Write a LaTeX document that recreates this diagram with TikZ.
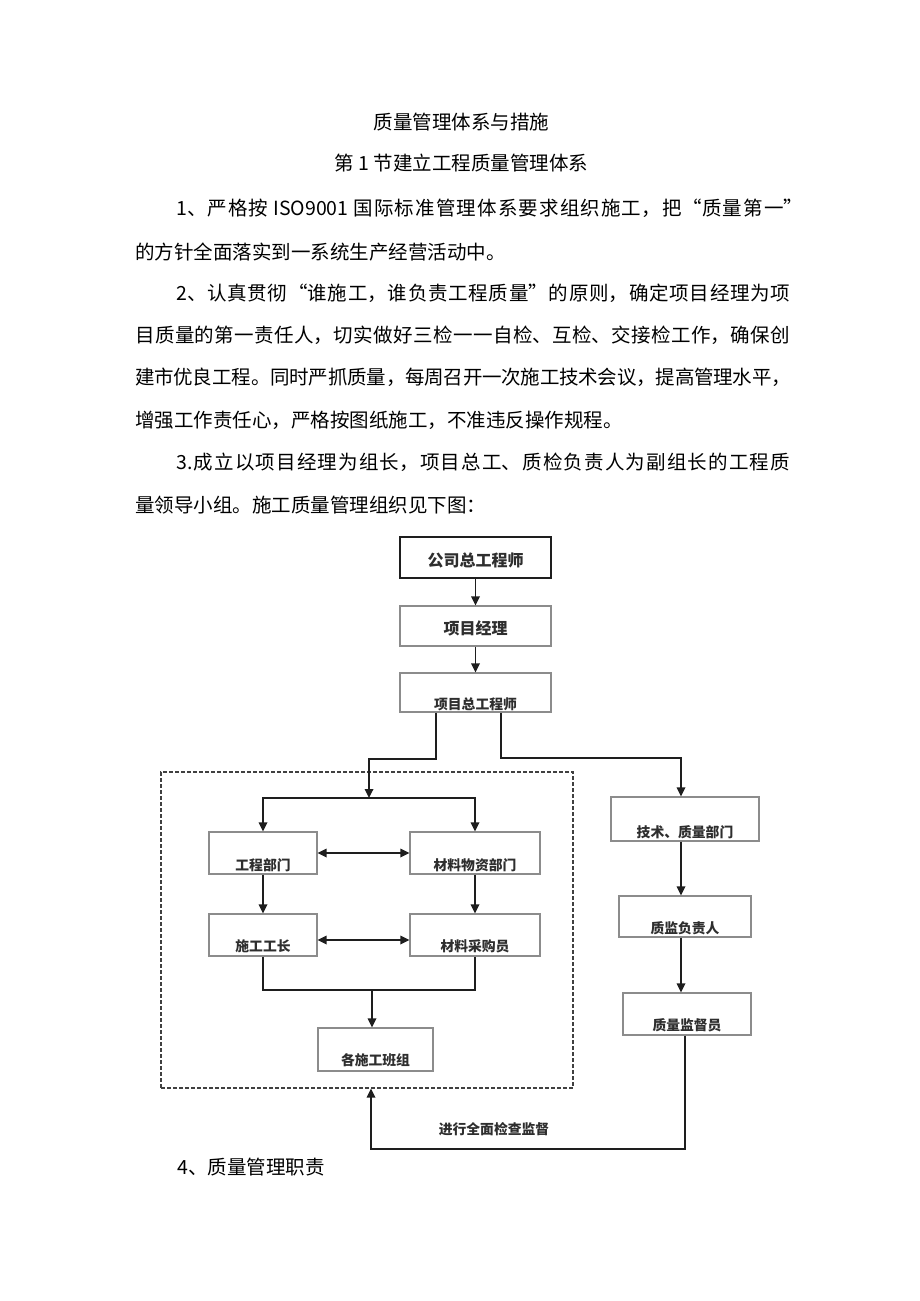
\documentclass[tikz,border=0pt]{standalone}
\usepackage{fontspec}
\setmainfont{Noto Sans CJK SC}
\usetikzlibrary{arrows.meta,calc}
\XeTeXlinebreaklocale "zh"
\XeTeXlinebreakskip=0pt plus 4pt minus 1pt
\definecolor{boxgray}{HTML}{8C8C8C}
\definecolor{txtgray}{HTML}{2E2E2E}
\definecolor{arrc}{HTML}{1E1E1E}
\newcommand{\jline}[2]{\parbox[b]{#1}{\parfillskip=0pt\noindent #2\par}}
\begin{document}
\begin{tikzpicture}[x=1pt,y=-1pt,
  body/.style={font=\fontsize{19.5}{24}\selectfont, inner sep=0pt, anchor=base west, text=black},
  bodyc/.style={font=\fontsize{19.5}{24}\selectfont, inner sep=0pt, anchor=base, text=black},
  box/.style={draw=boxgray, line width=1.2pt, inner sep=0pt, text=txtgray,
              font=\bfseries\fontsize{13.8}{14}\selectfont},
  topbox/.style={box, draw=arrc, line width=2pt, font=\bfseries\fontsize{16}{16}\selectfont},
  bx/.style n args={3}{minimum width=#1, text height=#2, text depth=#3},
  grpbox/.style={draw=arrc!85, line width=1.2pt, dash pattern=on 4pt off 2pt, inner sep=0pt},
  ln/.style={draw=arrc, line width=1.7pt},
  arr/.style={ln, -{Triangle[length=9pt,width=8.5pt]}},
  arrboth/.style={ln, {Triangle[length=9pt,width=8.5pt]}-{Triangle[length=9pt,width=8.5pt]}},
  lbl/.style={inner sep=0pt, text=txtgray, font=\bfseries\fontsize{13.8}{14}\selectfont}
]
\useasboundingbox[fill=white] (0,0) rectangle (920,1301);

% ---- text ----
\node[bodyc] (t0) at (461.5,129.6) {质量管理体系与措施};
\node[bodyc] (t1) at (461.5,170.6) {第 1 节建立工程质量管理体系};
\node[body] (p1a) at (176,215.6) {\jline{627pt}{1、严格按 ISO9001 国际标准管理体系要求组织施工，把“质量第一”}};
\node[body] (p1b) at (135,259.6) {的方针全面落实到一系统生产经营活动中。};
\node[body] (p2a) at (176,300.6) {\jline{614pt}{2、认真贯彻“谁施工，谁负责工程质量”的原则，确定项目经理为项}};
\node[body] (p2b) at (135,342.6) {\jline{655pt}{目质量的第一责任人，切实做好三检一一自检、互检、交接检工作，确保创}};
\node[body] (p2c) at (135,384.6) {\jline{656pt}{建市优良工程。同时严抓质量，每周召开一次施工技术会议，提高管理水平，}};
\node[body] (p2d) at (135,427.6) {增强工作责任心，严格按图纸施工，不准违反操作规程。};
\node[body] (p3a) at (176,469.6) {\jline{614pt}{3.成立以项目经理为组长，项目总工、质检负责人为副组长的工程质}};
\node[body] (p3b) at (135,512.6) {量领导小组。施工质量管理组织见下图：};
\node[body] (p4) at (177,1174.6) {4、质量管理职责};

% ---- chart ----
\node[grpbox, minimum width=412pt, minimum height=316pt] (grp) at (367,930) {};

\node[topbox, bx={151pt}{29pt}{12pt}] (b1) at (475.5,557.5) {公司总工程师};
\node[box, bx={151pt}{28pt}{12pt}, font=\bfseries\fontsize{16}{16}\selectfont] (b2) at (475.5,626) {项目经理};
\node[box, bx={151pt}{36pt}{3pt}] (b3) at (475.5,692.5) {项目总工程师};

\node[box, bx={108pt}{38pt}{4pt}] (b4) at (263,853) {工程部门};
\node[box, bx={130pt}{38pt}{4pt}] (b5) at (475,853) {材料物资部门};
\node[box, bx={108pt}{37pt}{5pt}] (b6) at (263,935) {施工工长};
\node[box, bx={130pt}{37pt}{5pt}] (b7) at (475,935) {材料采购员};
\node[box, bx={115pt}{37pt}{6pt}] (b8) at (375.5,1049.5) {各施工班组};

\node[box, bx={148pt}{40pt}{4pt}] (b9) at (685,819) {技术、质量部门};
\node[box, bx={132pt}{37pt}{4pt}] (b10) at (685,916.5) {质监负责人};
\node[box, bx={128pt}{37pt}{5pt}] (b11) at (687,1014) {质量监督员};

\node[lbl] (lab) at (494,1129) {进行全面检查监督};

\coordinate (L1) at (436,759);
\coordinate (Ls) at (369,798);
\coordinate (R1) at (501,758);
\coordinate (R2) at (681,758);
\coordinate (M) at (372,990);
\coordinate (B1) at (685,1149);
\coordinate (B2) at (371,1149);

\draw[arr] (b1) -- (b2);
\draw[arr] (b2) -- (b3);
\draw[arr] (b3.south -| L1) -- (L1) -| (Ls);
\draw[arrboth] (b4.north) |- (Ls) -| (b5.north);
\draw[arrboth] (b4.east) -- (b5.west);
\draw[arrboth] ([yshift=-5pt]b6.east) -- ([yshift=-5pt]b7.west);
\draw[arr] (b4) -- (b6);
\draw[arr] (b5) -- (b7);
\draw[ln] (b6.south) |- (M) -| (b7.south);
\draw[arr] (M) -- (M |- b8.north);
\draw[arr] (b3.south -| R1) -- (R1) -- (R2) -- (R2 |- b9.north);
\draw[arr] (b9.south -| R2) -- (b10.north -| R2);
\draw[arr] (b10.south -| R2) -- (b11.north -| R2);
\draw[arr] (b11.south -| B1) -- (B1) -- (B2) -- (B2 |- grp.south);
\end{tikzpicture}
\end{document}
